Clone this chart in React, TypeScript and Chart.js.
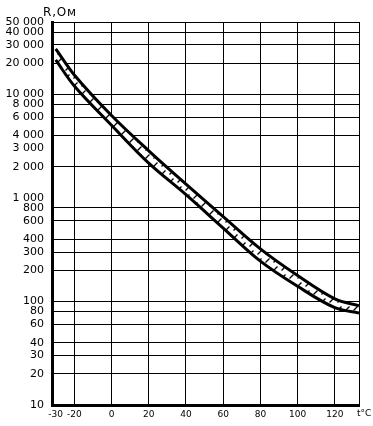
import React, { useEffect, useRef } from "react";
import { Chart, registerables } from "chart.js";

Chart.register(...registerables);

// Temperature, °C
const temps = [-30, -20, 0, 20, 40, 60, 80, 100, 120, 133];
// Upper bound of resistance, Ohm
const upperR = [27500, 15400, 6250, 2850, 1360, 660, 322, 178, 106, 91];
// Lower bound of resistance, Ohm
const lowerR = [21500, 12070, 5030, 2165, 1075, 512, 245, 140, 87, 77.5];

const xTicks = [-30, -20, 0, 20, 40, 60, 80, 100, 120, 133];
const xTickLabels = ["-30", "-20", "0", "20", "40", "60", "80", "100", "120", ""];
const yTicks = [10, 20, 30, 40, 60, 80, 100, 200, 300, 400, 600, 800, 1000, 2000, 3000, 4000, 6000, 8000, 10000, 20000, 30000, 40000, 50000];
const yHiddenGrid = [1000, 3000];

const yTitle = "R,Ом";
const xTitle = "t°C";

function fmt(v: number): string {
  const s = String(Math.round(v));
  if (s.length <= 3) return s;
  return s.slice(0, s.length - 3) + " " + s.slice(s.length - 3);
}

export default function App() {
  const ref = useRef<HTMLCanvasElement | null>(null);

  useEffect(() => {
    const canvas = ref.current;
    if (!canvas) return;
    const ctx = canvas.getContext("2d")!;

    const pc = document.createElement("canvas");
    pc.width = 8;
    pc.height = 8;
    const g = pc.getContext("2d")!;
    g.fillStyle = "#fff";
    g.fillRect(0, 0, 8, 8);
    g.strokeStyle = "#000";
    g.lineWidth = 1.3;
    g.beginPath();
    g.moveTo(1.5, 6.5);
    g.lineTo(5.5, 2.5);
    g.stroke();
    const pattern = ctx.createPattern(pc, "repeat")!;

    const chart = new Chart(canvas, {
      type: "line",
      data: {
        datasets: [
          {
            data: temps.map((x, i) => ({ x, y: upperR[i] })),
            borderColor: "#000",
            borderWidth: 3,
            pointRadius: 0,
            tension: 0.35,
            fill: false,
          },
          {
            data: temps.map((x, i) => ({ x, y: lowerR[i] })),
            borderColor: "#000",
            borderWidth: 3,
            pointRadius: 0,
            tension: 0.35,
            fill: "-1",
            backgroundColor: pattern as any,
          },
        ],
      },
      options: {
        animation: false,
        responsive: false,
        layout: { padding: { top: 22, right: 14, left: 0, bottom: 0 } },
        plugins: {
          legend: { display: false },
          tooltip: { enabled: false },
          title: { display: false },
        },
        scales: {
          x: {
            type: "linear",
            min: -32,
            max: 133,
            afterBuildTicks: (s: any) => {
              s.ticks = xTicks.map((v) => ({ value: v }));
            },
            afterFit: (s: any) => {
              s.height = 21;
            },
            ticks: {
              color: "#000",
              padding: 4,
              maxRotation: 0,
              autoSkip: false,
              font: { family: "DejaVu Sans", size: 9 },
              callback: (v: any) => {
                const i = xTicks.indexOf(Number(v));
                return i >= 0 ? xTickLabels[i] : "";
              },
            },
            grid: {
              color: (c: any) => (c.tick && c.tick.value === -30 ? "rgba(0,0,0,0)" : "#000"),
              lineWidth: 1,
              drawTicks: false,
            },
            border: { display: true, color: "#000", width: 3 },
          },
          y: {
            type: "logarithmic",
            min: 10,
            max: 50000,
            afterBuildTicks: (s: any) => {
              s.ticks = yTicks.map((v) => ({ value: v }));
            },
            afterFit: (s: any) => {
              s.width = 52;
            },
            ticks: {
              color: "#000",
              padding: 8,
              autoSkip: false,
              font: { family: "DejaVu Sans", size: 11 },
              callback: (v: any) => fmt(Number(v)),
            },
            grid: {
              color: (c: any) =>
                c.tick && yHiddenGrid.indexOf(c.tick.value) >= 0 ? "rgba(0,0,0,0)" : "#000",
              lineWidth: 1,
              drawTicks: false,
            },
            border: { display: true, color: "#000", width: 3 },
          },
        },
      },
    });
    return () => chart.destroy();
  }, []);

  return (
    <div style={{ position: "fixed", left: 0, top: 0, width: 373, height: 426, background: "#fff" }}>
      <canvas ref={ref} width={373} height={426} style={{ position: "absolute", left: 0, top: 0, display: "block" }} />
      <span
        style={{
          position: "absolute",
          left: 43,
          top: 5,
          fontFamily: "DejaVu Sans",
          fontSize: 12,
          letterSpacing: 0.8,
          color: "#000",
          whiteSpace: "nowrap",
        }}
      >
        {yTitle}
      </span>
      <span
        style={{
          position: "absolute",
          left: 357,
          top: 408,
          fontFamily: "DejaVu Sans",
          fontSize: 9,
          color: "#000",
          whiteSpace: "nowrap",
        }}
      >
        {xTitle}
      </span>
    </div>
  );
}
